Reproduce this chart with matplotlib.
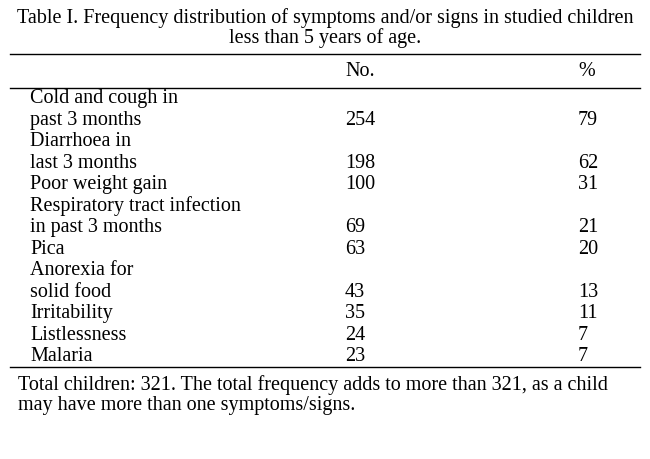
import matplotlib.pyplot as plt

plt.rcParams['font.family'] = ['Liberation Serif', 'DejaVu Serif']

title = ['Table I. Frequency distribution of symptoms and/or signs in studied children',
         'less than 5 years of age.']
symptoms = ['Cold and cough in\npast 3 months', 'Diarrhoea in\nlast 3 months', 'Poor weight gain',
            'Respiratory tract infection\nin past 3 months', 'Pica', 'Anorexia for\nsolid food',
            'Irritability', 'Listlessness', 'Malaria']
counts = [254, 198, 100, 69, 63, 43, 35, 24, 23]
percents = [79, 62, 31, 21, 20, 13, 11, 7, 7]
footnote = ['Total children: 321. The total frequency adds to more than 321, as a child',
            'may have more than one symptoms/signs.']

fig = plt.figure(figsize=(6.5, 4.6), dpi=100)
ax = fig.add_axes([0, 0, 1, 1])
ax.set_xlim(0, 650)
ax.set_ylim(460, 0)
ax.axis('off')

fs = 14.5
# Title
ax.text(325, 18, title[0], ha='center', va='center', fontsize=fs)
ax.text(325, 38, title[1], ha='center', va='center', fontsize=fs)
ax.plot([10, 640], [55, 55], color='black', lw=1)
ax.text(345, 72, 'No.', va='center', fontsize=fs)
ax.text(578, 72, '%', va='center', fontsize=fs)
ax.plot([10, 640], [89, 89], color='black', lw=1)

# Rows
y = 99
step = 21.5
for label, n, p in zip(symptoms, counts, percents):
    lines = label.split('\n')
    for line in lines:
        ax.text(30, y, line, va='center', fontsize=fs)
        y += step
    ax.text(345, y - step, str(n), va='center', fontsize=fs)
    ax.text(578, y - step, str(p), va='center', fontsize=fs)

ax.plot([10, 640], [368, 368], color='black', lw=1)
ax.text(18, 385, footnote[0], va='center', fontsize=fs)
ax.text(18, 406, footnote[1], va='center', fontsize=fs)

plt.savefig('out.png', dpi=100)
plt.close()
